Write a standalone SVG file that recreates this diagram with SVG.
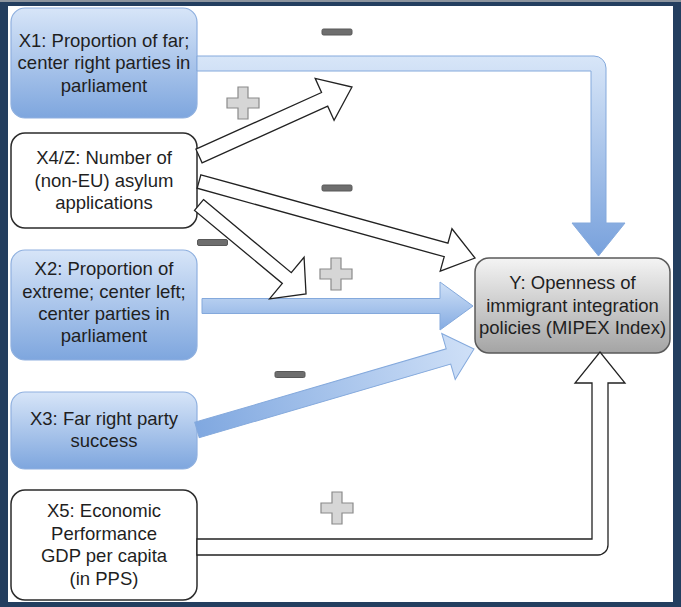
<svg xmlns="http://www.w3.org/2000/svg" width="681" height="607" viewBox="0 0 681 607">
<style>
.t{font-family:"Liberation Sans",Arial,sans-serif;font-size:18.5px;fill:#1f1f1f;text-anchor:middle}
.bluebox{fill:url(#gNode);stroke:#8fb0df;stroke-width:1.2}
.whitebox{fill:#fff;stroke:#2b2b2b;stroke-width:1.5}
.warrow{fill:#fff;stroke:#222;stroke-width:1.3;stroke-linejoin:miter}
.barrow{stroke:#84a9dc;stroke-width:1}
.minus{fill:#6e6e6e;stroke:#585858;stroke-width:1}
.plus{fill:#d6d6d6;stroke:#8a8a8a;stroke-width:1.2}
</style>
<defs>
<linearGradient id="gNode" x1="0" y1="0" x2="0" y2="1">
<stop offset="0" stop-color="#d7e5f8"/>
<stop offset="1" stop-color="#7ea6de"/>
</linearGradient>
<linearGradient id="gY" x1="0" y1="0" x2="0" y2="1">
<stop offset="0" stop-color="#f4f4f4"/>
<stop offset="1" stop-color="#a4a4a4"/>
</linearGradient>
<linearGradient id="gX1" gradientUnits="userSpaceOnUse" x1="0" y1="56" x2="0" y2="256">
<stop offset="0" stop-color="#d8e6f8"/>
<stop offset="1" stop-color="#78a1dc"/>
</linearGradient>
<linearGradient id="gV" x1="0" y1="0" x2="0" y2="1">
<stop offset="0" stop-color="#d0e1f7"/>
<stop offset="1" stop-color="#84abe2"/>
</linearGradient>
<linearGradient id="gH" x1="0" y1="0" x2="1" y2="0">
<stop offset="0" stop-color="#80a8e0"/>
<stop offset="1" stop-color="#cfe0f7"/>
</linearGradient>
<path id="plus" d="M-5,-16H5V-5H16V5H5V16H-5V5H-16V-5H-5Z"/>
<rect id="minus" x="-15" y="-3" width="30" height="6" rx="1.5"/>
</defs>

<!-- frame -->
<rect x="0" y="0" width="681" height="607" fill="#233e5f"/>
<rect x="0" y="0" width="681" height="2" fill="#8c949e"/>
<rect x="8" y="6" width="665" height="596" fill="#fff"/>

<g id="X1">
<rect class="bluebox" x="11" y="8" width="186" height="110" rx="14"/>
<text class="t" x="104" y="46.5">X1: Proportion of far;</text>
<text class="t" x="104" y="69">center right parties in</text>
<text class="t" x="104" y="91.5">parliament</text>
</g>
<g id="X4Z">
<rect class="whitebox" x="11" y="133" width="186" height="95" rx="14"/>
<text class="t" x="104" y="164">X4/Z: Number of</text>
<text class="t" x="104" y="186.5">(non-EU) asylum</text>
<text class="t" x="104" y="209">applications</text>
</g>
<g id="X2">
<rect class="bluebox" x="11" y="250" width="186" height="110" rx="14"/>
<text class="t" x="104" y="275">X2: Proportion of</text>
<text class="t" x="104" y="298">extreme; center left;</text>
<text class="t" x="104" y="320">center parties in</text>
<text class="t" x="104" y="342">parliament</text>
</g>
<g id="X3">
<rect class="bluebox" x="11" y="392" width="186" height="77" rx="14"/>
<text class="t" x="104" y="424.5">X3: Far right party</text>
<text class="t" x="104" y="447">success</text>
</g>
<g id="X5">
<rect class="whitebox" x="11" y="490" width="186" height="110" rx="14"/>
<text class="t" x="104" y="516.5">X5: Economic</text>
<text class="t" x="104" y="539.5">Performance</text>
<text class="t" x="104" y="562">GDP per capita</text>
<text class="t" x="104" y="584.5">(in PPS)</text>
</g>
<g id="Y">
<rect x="475" y="258" width="195" height="95" rx="14" fill="url(#gY)" stroke="#5a5a5a" stroke-width="1.5"/>
<text class="t" x="572.5" y="288.5">Y: Openness of</text>
<text class="t" x="572.5" y="311.5">immigrant integration</text>
<text class="t" x="572.5" y="333.5">policies (MIPEX Index)</text>
</g>

<g id="connectors">
<!-- X1 -> Y -->
<path class="barrow" fill="url(#gX1)" d="M197,56H594A12,12 0 0 1 606,68V223H625L598.5,256L572,223H591V71H197Z"/>
<!-- X2 -> Y -->
<path class="barrow" fill="url(#gV)" d="M202,298.5H440V282L473,306L440,330V313.5H202Z"/>
<!-- X3 -> Y -->
<path class="barrow" fill="url(#gH)" transform="translate(197,430) rotate(-16.3)" d="M0,-8H262V-24L288.6,0L262,24V8H0Z"/>
<!-- X4 -> X1 link -->
<path class="warrow" transform="translate(199,156) rotate(-24.27)" d="M0,-7.5H137.8V-23L167.8,0L137.8,23V7.5H0Z"/>
<!-- X4 -> Y -->
<path class="warrow" transform="translate(199,181.5) rotate(15.49)" d="M0,-7H256.4V-22L286.4,0L256.4,22V7H0Z"/>
<!-- X4 -> X2 link -->
<path class="warrow" transform="translate(199,205) rotate(39.75)" d="M0,-7H114.2V-27L139.2,0L114.2,27V7H0Z"/>
<!-- X5 -> Y -->
<path class="warrow" d="M197,539H592V383H575L600,352L625,383H608V545A10,10 0 0 1 598,555H197Z"/>
</g>

<g id="labels">
<use href="#minus" class="minus" x="337" y="32"/>
<use href="#plus" class="plus" x="243" y="103"/>
<use href="#minus" class="minus" x="337" y="188"/>
<use href="#minus" class="minus" x="212.5" y="242.5"/>
<use href="#plus" class="plus" x="336" y="274"/>
<use href="#minus" class="minus" x="290" y="374.5"/>
<use href="#plus" class="plus" x="337" y="508"/>
</g>
</svg>
